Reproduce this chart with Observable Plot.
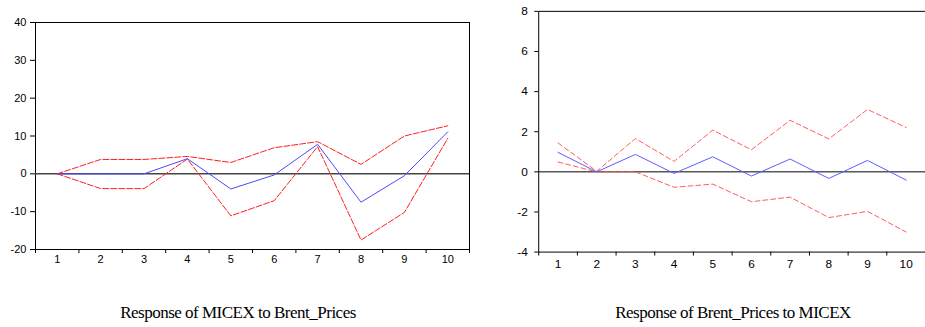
<!DOCTYPE html>
<html>
<head>
<meta charset="utf-8">
<script src="https://cdn.jsdelivr.net/npm/d3@7"></script>
<script src="https://cdn.jsdelivr.net/npm/@observablehq/plot@0.6"></script>
<style>
  html, body { margin: 0; padding: 0; background: #fff; overflow: hidden; }
  #wrap { position: relative; width: 925px; height: 327px; overflow: hidden; }
  .panel { position: absolute; top: 0; }
  .cap { position: absolute; top: 303px; font-family: "Liberation Serif", "Times New Roman", serif; font-size: 17px; color: #000; white-space: nowrap; transform: translateX(-50%); letter-spacing: -0.5px; }
</style>
</head>
<body>
<div id="wrap">
  <div id="left" class="panel" style="left:0px"></div>
  <div id="right" class="panel" style="left:480px"></div>
  <div class="cap" style="left:238px">Response of MICEX to Brent_Prices</div>
  <div class="cap" style="left:733px">Response of Brent_Prices to MICEX</div>
</div>
<script>
// Periods (x categories)
const periods = [1, 2, 3, 4, 5, 6, 7, 8, 9, 10];

// Left panel: Response of MICEX to Brent_Prices
const micexResp  = [0, 0, 0, 4.0, -4.0, -0.3, 7.8, -7.5, -0.5, 11.1];
const micexUpper = [0, 3.8, 3.8, 4.6, 3.0, 6.9, 8.5, 2.5, 10.0, 12.7];
const micexLower = [0, -3.9, -3.9, 3.9, -11.1, -7.1, 7.2, -17.5, -10.2, 9.4];
const leftYTicks = [-20, -10, 0, 10, 20, 30, 40];

// Right panel: Response of Brent_Prices to MICEX
const brentResp  = [0.97, 0.0, 0.87, -0.08, 0.75, -0.21, 0.64, -0.33, 0.57, -0.41];
const brentUpper = [1.44, 0.03, 1.66, 0.52, 2.08, 1.10, 2.57, 1.64, 3.11, 2.21];
const brentLower = [0.49, 0.0, 0.0, -0.77, -0.61, -1.49, -1.26, -2.28, -1.97, -3.0];
const rightYTicks = [-4, -2, 0, 2, 4, 6, 8];

const rows = vals => periods.map((p, i) => ({x: p, y: vals[i]}));
const boundaries = [periods[0] - 0.5, ...periods.map(p => p + 0.5)];

function panel(opts) {
  return Plot.plot({
    width: opts.width, height: opts.height,
    marginLeft: opts.ml, marginRight: opts.mr, marginTop: opts.mt, marginBottom: opts.mb,
    x: {domain: [boundaries[0], boundaries[boundaries.length - 1]]},
    y: {domain: opts.ydomain},
    style: {fontFamily: "'Liberation Sans', Arial, sans-serif", fontSize: opts.fs, color: "#000", background: "transparent", overflow: "visible"},
    marks: [
      Plot.frame({stroke: "#000", strokeWidth: 1}),
      Plot.ruleY([0], {stroke: opts.zeroColor, strokeWidth: opts.zeroWidth}),
      Plot.axisY({ticks: opts.yticks, tickSize: opts.ytickSize, tickPadding: opts.ytickPad, label: null, tickFormat: d => String(d)}),
      Plot.axisX({ticks: boundaries, tickSize: 4, tickFormat: () => "", label: null}),
      Plot.axisX({ticks: periods, tickSize: 0, tickPadding: opts.xPad, label: null, tickFormat: d => String(d)}),
      Plot.line(rows(opts.upper), {x: "x", y: "y", stroke: opts.red, strokeWidth: 1, strokeDasharray: opts.dash}),
      Plot.line(rows(opts.lower), {x: "x", y: "y", stroke: opts.red, strokeWidth: 1, strokeDasharray: opts.dash}),
      Plot.line(rows(opts.resp), {x: "x", y: "y", stroke: opts.blue, strokeWidth: 1})
    ]
  });
}

document.getElementById("left").appendChild(panel({
  width: 480, height: 280, ml: 35, mr: 11, mt: 22, mb: 31,
  ydomain: [-20, 40], yticks: leftYTicks, ytickSize: 5, ytickPad: 4, xPad: 6, fs: "11px",
  zeroColor: "#444", zeroWidth: 1.5,
  upper: micexUpper, lower: micexLower, resp: micexResp,
  red: "#ff2020", blue: "#4a4aff", dash: "6,2"
}));

document.getElementById("right").appendChild(panel({
  width: 451, height: 280, ml: 59, mr: 0, mt: 11, mb: 25,
  ydomain: [-4, 8], yticks: rightYTicks, ytickSize: 4, ytickPad: 7, xPad: 8, fs: "12px",
  zeroColor: "#000", zeroWidth: 1,
  upper: brentUpper, lower: brentLower, resp: brentResp,
  red: "#ff5a5a", blue: "#5a5aff", dash: "5,3"
}));
</script>
</body>
</html>
